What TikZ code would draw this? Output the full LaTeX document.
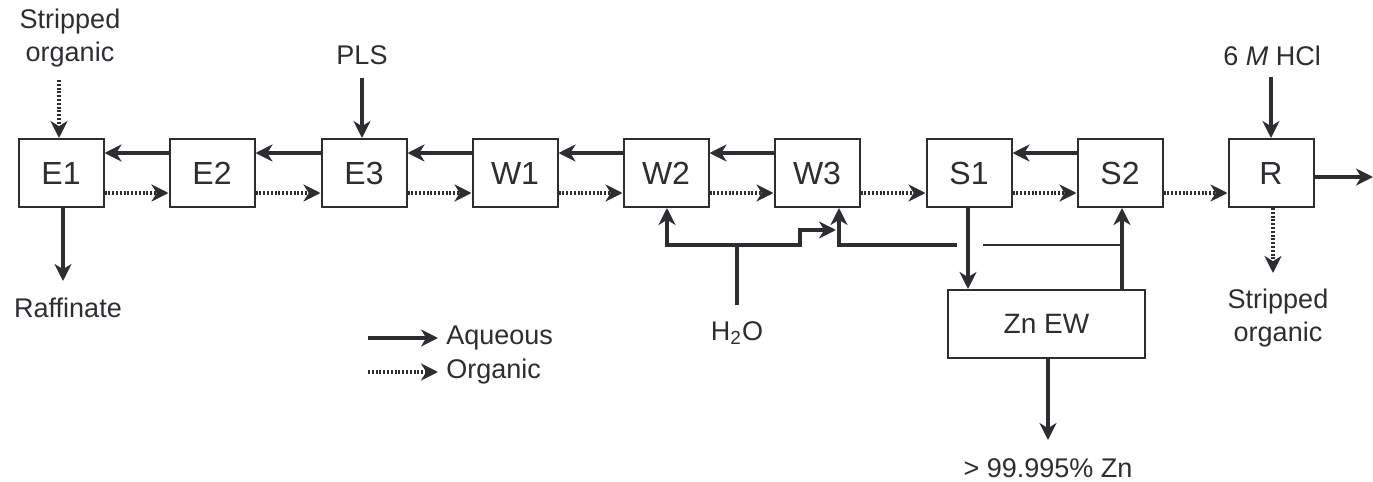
\documentclass[tikz,border=0pt]{standalone}
\usepackage{fontspec}
\setmainfont{Liberation Sans}
\usetikzlibrary{arrows.meta}
\definecolor{ink}{RGB}{45,45,50}
\begin{document}
\begin{tikzpicture}[x=0.5pt,y=-0.5pt,
  every node/.style={text=ink},
  unit/.style={draw=ink,line width=1pt,minimum width=42.5pt,minimum height=34pt,inner sep=0pt,font=\fontsize{16}{18}\selectfont},
  lbl/.style={font=\fontsize{13.5}{16.5}\selectfont,align=center,inner sep=0pt},
  aq/.style={draw=ink,line width=2.4pt,-{Stealth[length=8.5pt,width=8.5pt,inset=2.6pt]}},
  aqline/.style={draw=ink,line width=2.4pt},
  org/.style={draw=ink,line width=1.7pt,dash pattern=on 1pt off 0.9pt,-{Stealth[length=8.5pt,width=8.5pt,inset=2.6pt]}},
  thin/.style={draw=ink,line width=1pt}]
\useasboundingbox (0,0) rectangle (1373,482);
% stage boxes
\node[unit] (E1) at (61,173) {E1};
\node[unit] (E2) at (212,173) {E2};
\node[unit] (E3) at (364,173) {E3};
\node[unit] (W1) at (515,173) {W1};
\node[unit] (W2) at (666,173) {W2};
\node[unit] (W3) at (817,173) {W3};
\node[unit] (S1) at (969,173) {S1};
\node[unit] (S2) at (1120,173) {S2};
\node[unit] (R) at (1271,173) {R};
\node[draw=ink,line width=1pt,minimum width=98.5pt,minimum height=34pt,inner sep=0pt,font=\fontsize{14}{16}\selectfont] (EW) at (1046.5,324) {Zn EW};
% row levels
\coordinate (aqy) at (0,153);
\coordinate (ory) at (0,193);
% aqueous (counter-current)
\draw[aq] (E2.west |- aqy) -- (E1.east |- aqy);
\draw[aq] (E3.west |- aqy) -- (E2.east |- aqy);
\draw[aq] (W1.west |- aqy) -- (E3.east |- aqy);
\draw[aq] (W2.west |- aqy) -- (W1.east |- aqy);
\draw[aq] (W3.west |- aqy) -- (W2.east |- aqy);
\draw[aq] (S2.west |- aqy) -- (S1.east |- aqy);
% organic
\draw[org] (E1.east |- ory) -- (E2.west |- ory);
\draw[org] (E2.east |- ory) -- (E3.west |- ory);
\draw[org] (E3.east |- ory) -- (W1.west |- ory);
\draw[org] (W1.east |- ory) -- (W2.west |- ory);
\draw[org] (W2.east |- ory) -- (W3.west |- ory);
\draw[org] (W3.east |- ory) -- (S1.west |- ory);
\draw[org] (S1.east |- ory) -- (S2.west |- ory);
\draw[org] (S2.east |- ory) -- (R.west |- ory);
% left inputs / outputs
\node[lbl] (SOin) at (70,38) {Stripped\\organic};
\coordinate (soA) at (59,80);
\draw[org] (soA) -- (soA |- E1.north);
\node[lbl] (PLS) at (362,55) {PLS};
\coordinate (plsA) at (362,78);
\draw[aq] (plsA) -- (plsA |- E3.north);
\coordinate (rfA) at (63,281);
\draw[aq] (rfA |- E1.south) -- (rfA);
\node[lbl] (Raf) at (68,308) {Raffinate};
% water
\node[lbl] (H2O) at (737,333) {H\textsubscript{2}O};
\coordinate (wA) at (737,305);
\coordinate (wB) at (737,245);
\draw[aqline] (wA) -- (wB);
\draw[aq] (wB) -- (667,245) -- (W2.south -| 667,0);
\coordinate (wS) at (800,245);
\coordinate (wT) at (836,230);
\draw[aq] (wB) -- (wS) -- (wS |- wT) -- (wT);
% strip section
\coordinate (s1d) at (968,0);
\draw[aq] (s1d |- S1.south) -- (s1d |- EW.north);
\coordinate (s2u) at (1122,0);
\draw[aq] (s2u |- EW.north) -- (s2u |- S2.south);
\coordinate (jT) at (1122,245);
\coordinate (jG) at (983,245);
\draw[thin] (jT) -- (jG);
\coordinate (bA) at (957,245);
\coordinate (bB) at (839,245);
\draw[aq] (bA) -- (bB) -- (bB |- W3.south);
\coordinate (znA) at (1048,0);
\coordinate (znB) at (1048,440);
\draw[aq] (znA |- EW.south) -- (znB);
\node[lbl] (Zn) at (1048,468) {> 99.995\% Zn};
% regeneration
\node[lbl] (HCl) at (1272,56) {6 \textit{M} HCl};
\coordinate (hA) at (1271,77);
\draw[aq] (hA) -- (hA |- R.north);
\coordinate (rOut) at (1373,177);
\draw[aq] (R.east |- rOut) -- (rOut);
\coordinate (rD) at (1273,273);
\draw[org] (rD |- R.south) -- (rD);
\node[lbl] (SOout) at (1278,318) {Stripped\\organic};
% legend
\coordinate (lgA) at (368,338);
\coordinate (lgB) at (438,338);
\draw[aq] (lgA) -- (lgB);
\node[lbl,anchor=west] (lgAq) at (446,338) {Aqueous};
\coordinate (lgC) at (368,372);
\coordinate (lgD) at (438,372);
\draw[org] (lgC) -- (lgD);
\node[lbl,anchor=west] (lgOr) at (446,372) {Organic};
\end{tikzpicture}
\end{document}
